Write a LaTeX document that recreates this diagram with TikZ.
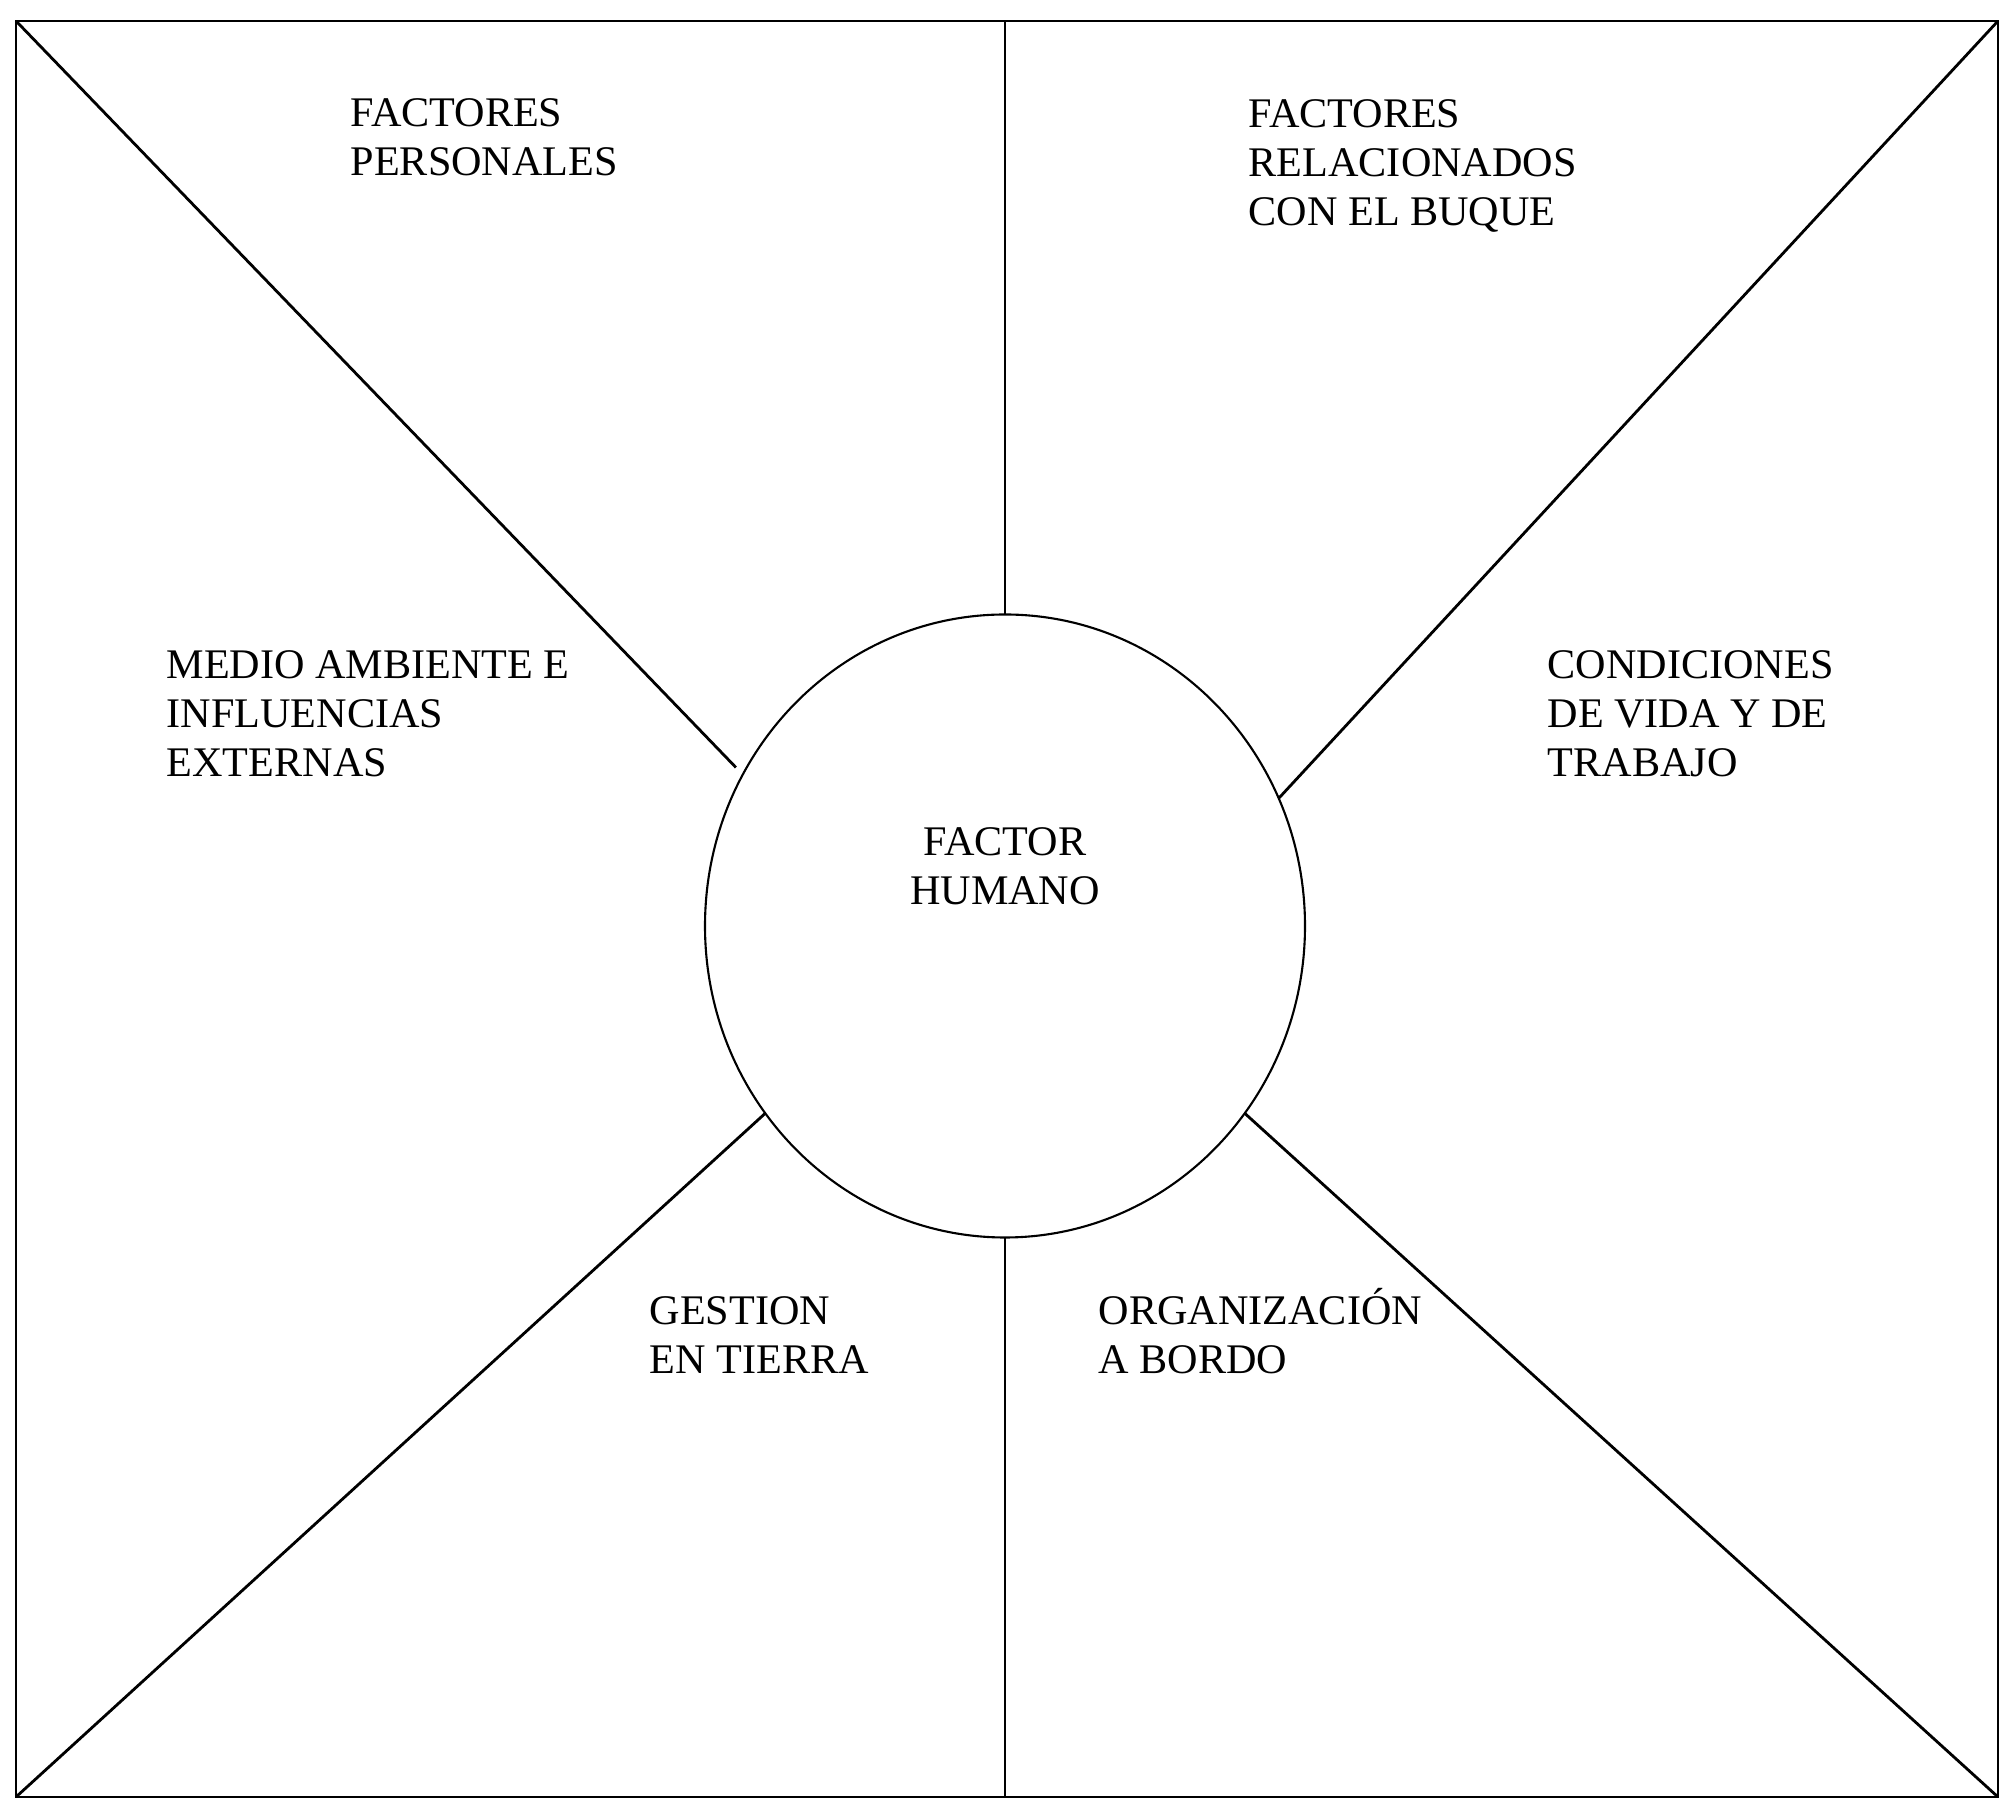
\documentclass[tikz,border=0pt]{standalone}
\usepackage{fontspec}
\setmainfont{Liberation Serif}
\usetikzlibrary{shapes.geometric}

\begin{document}
\begin{tikzpicture}[
  lbl/.style={font=\fontsize{12}{14}\selectfont, align=left, anchor=base west, inner sep=0pt},
  hub/.style={ellipse, draw, line width=0.6pt, minimum width=6cm, minimum height=6.23cm, inner sep=0pt, outer sep=0pt},
  edge/.style={line width=0.8pt}
]
  \useasboundingbox (0,0) rectangle (20.11,18.18);
  \coordinate (tl) at (0.16,17.97);
  \coordinate (tr) at (19.98,17.97);
  \coordinate (bl) at (0.16,0.21);
  \coordinate (br) at (19.98,0.21);
  \coordinate (tm) at (10.05,17.97);
  \coordinate (bm) at (10.05,0.21);
  \draw[edge] (bl) rectangle (tr);

  \node[hub] (fh) at (10.05,8.92) {};
  \node[lbl, align=center, anchor=base] (fhlbl) at (10.05,9.13) {FACTOR\\HUMANO};

  \draw[edge] (tm) -- (fh.north);
  \draw[edge] (bm) -- (fh.south);
  \draw[edge, shorten >=0.1cm] (tl) -- (fh.150);
  \draw[edge] (tr) -- (fh.25);
  \draw[edge] (bl) -- (fh.218);
  \draw[edge] (br) -- (fh.322);

  \node[lbl] (pers) at (3.50,16.42) {FACTORES\\PERSONALES};
  \node[lbl] (buque) at (12.48,15.92) {FACTORES\\RELACIONADOS\\CON EL BUQUE};
  \node[lbl] (medio) at (1.66,10.41) {MEDIO AMBIENTE E\\INFLUENCIAS\\EXTERNAS};
  \node[lbl] (vida) at (15.47,10.41) {CONDICIONES\\DE VIDA Y DE\\TRABAJO};
  \node[lbl] (tierra) at (6.49,4.44) {GESTION\\EN TIERRA};
  \node[lbl] (bordo) at (10.98,4.44) {ORGANIZACIÓN\\A BORDO};
\end{tikzpicture}
\end{document}
